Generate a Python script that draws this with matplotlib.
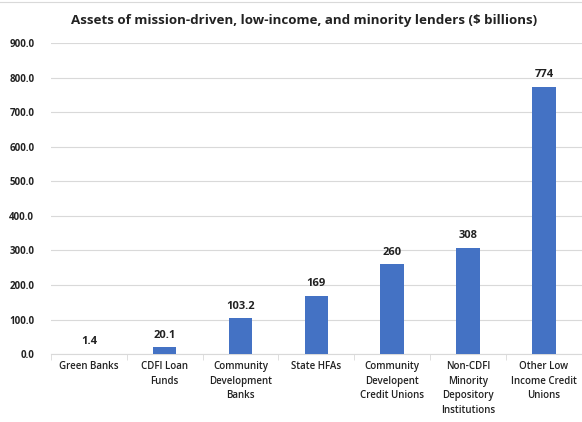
import matplotlib.pyplot as plt
from matplotlib.lines import Line2D
import numpy as np

categories = ['Green Banks', 'CDFI Loan\nFunds', 'Community\nDevelopment\nBanks', 'State HFAs',
              'Community\nDevelopent\nCredit Unions', 'Non-CDFI\nMinority\nDepository\nInstitutions',
              'Other Low\nIncome Credit\nUnions']
values = [1.4, 20.1, 103.2, 169, 260, 308, 774]
labels = ['1.4', '20.1', '103.2', '169', '260', '308', '774']

plt.rcParams['font.family'] = ['Open Sans', 'DejaVu Sans']

fig = plt.figure(figsize=(5.82, 4.22), dpi=100)
ax = fig.add_axes([0.0876, 0.161, 0.912, 0.737])

x = np.arange(len(categories))
ax.bar(x, values, width=0.31, color='#4472C4', zorder=3)
for xi, v, lab in zip(x, values, labels):
    ax.annotate(lab, (xi, v), xytext=(0, 4.5), textcoords='offset points',
                ha='center', va='bottom', fontsize=8, fontweight='bold', color='#222222')

ax.set_xlim(-0.5, len(categories) - 0.5)
ax.set_ylim(0, 900)
ax.set_yticks(np.arange(0, 901, 100))
ax.set_yticklabels([f'{t:.1f}' for t in np.arange(0, 901, 100)], fontsize=7, fontweight='bold', color='#222222')
ax.set_xticks(x)
ax.set_xticklabels(categories, fontsize=7, fontweight='semibold', color='#222222', va='top', linespacing=1.45)
ax.tick_params(axis='y', length=0, pad=12)
ax.tick_params(axis='x', length=0, pad=5)
ax.set_xticks(np.arange(-0.5, len(categories)), minor=True)
ax.tick_params(axis='x', which='minor', length=4, color='#D9D9D9')
ax.grid(axis='y', color='#D9D9D9', linewidth=0.8, zorder=0)
for s in ['top', 'right', 'left']:
    ax.spines[s].set_visible(False)
ax.spines['bottom'].set_color('#D9D9D9')

fig.text(0.523, 0.951, 'Assets of mission-driven, low-income, and minority lenders ($ billions)',
         ha='center', va='center', fontsize=9.6, fontweight='bold', color='#222222')
fig.add_artist(Line2D([0, 1], [0.995, 0.995], color='#D9D9D9', linewidth=0.8))

fig.savefig('out.png', dpi=100)
